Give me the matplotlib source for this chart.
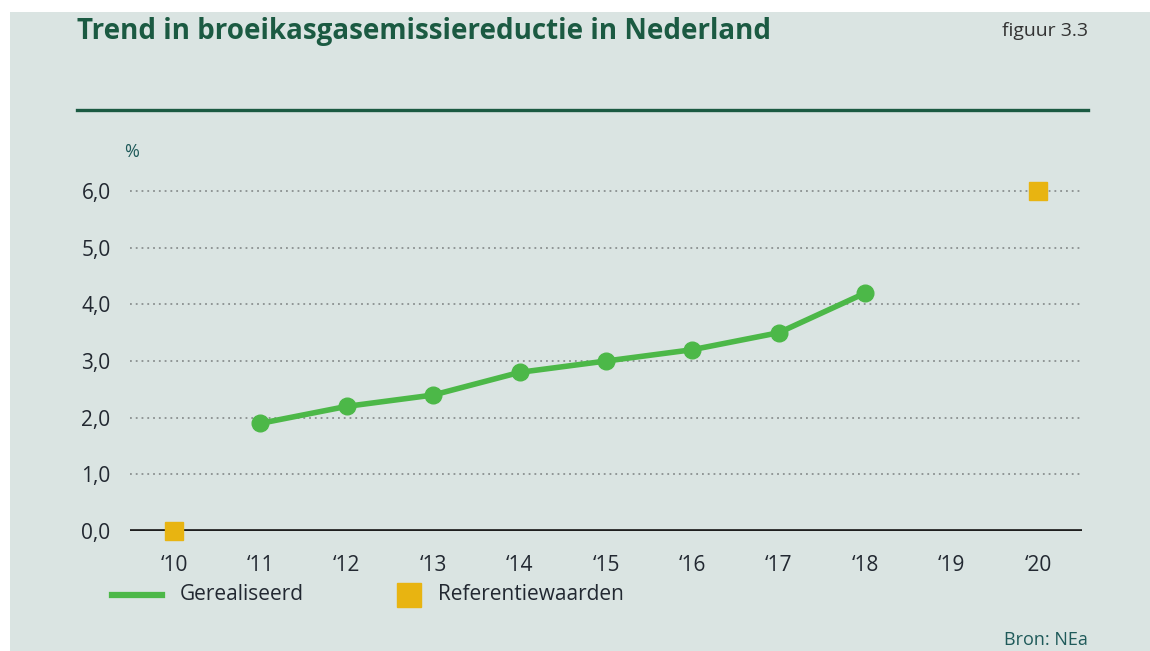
import matplotlib.pyplot as plt
from matplotlib.patches import Rectangle
from matplotlib.lines import Line2D

years = [2011, 2012, 2013, 2014, 2015, 2016, 2017, 2018]
gerealiseerd = [1.9, 2.2, 2.4, 2.8, 3.0, 3.2, 3.5, 4.2]
ref_years = [2010, 2020]
ref_values = [0.0, 6.0]
xtick_years = list(range(2010, 2021))
xtick_labels = ['\u2018' + str(y)[2:] for y in xtick_years]
yticks = [0, 1, 2, 3, 4, 5, 6]
ytick_labels = ['0,0', '1,0', '2,0', '3,0', '4,0', '5,0', '6,0']

bg = '#dae4e2'
green = '#4cb848'
yellow = '#e8b411'
dark_green = '#1b5a42'
text_col = '#222831'

plt.rcParams['font.family'] = ['Open Sans', 'DejaVu Sans']

fig = plt.figure(figsize=(11.5, 6.51), dpi=100)
fig.patch.set_facecolor('white')
fig.add_artist(Rectangle((10 / 1150, 0), 1 - 10 / 1150, 1 - 12 / 651,
                         transform=fig.transFigure, facecolor=bg,
                         edgecolor='none', zorder=-10))

ax = fig.add_axes([130 / 1150, 120 / 651, 952 / 1150, (531 - 161.6) / 651])
ax.set_facecolor('none')
ax.set_xlim(2009.49, 2020.51)
ax.set_ylim(0, 6.52)

for v in yticks[1:]:
    ax.axhline(v, color='#8a8f8f', lw=1.3, ls=(0, (1, 2.2)), zorder=1)
ax.axhline(0, color='#1e1e1e', lw=3.4, zorder=2)

ax.plot(years, gerealiseerd, color=green, lw=4, marker='o', ms=12,
        zorder=3, solid_capstyle='round')
ax.plot(ref_years, ref_values, ls='none', marker='s', ms=12.5,
        color=yellow, zorder=4, clip_on=False)

for s in ax.spines.values():
    s.set_visible(False)
ax.set_yticks(yticks)
ax.set_yticklabels(ytick_labels)
ax.set_xticks(xtick_years)
ax.set_xticklabels(xtick_labels)
ax.tick_params(length=0, labelsize=15, colors=text_col)
ax.tick_params(axis='y', pad=14)
ax.tick_params(axis='x', pad=17)

fig.text(132 / 1150, 1 - 152 / 651, '%', fontsize=13, color='#1f5a5a',
         ha='center', va='center')

fig.text(77 / 1150, 1 - 31 / 651,
         'Trend in broeikasgasemissiereductie in Nederland',
         fontsize=20, fontweight='bold', color=dark_green,
         ha='left', va='center')
fig.text(1088 / 1150, 1 - 31 / 651, 'figuur 3.3', fontsize=14,
         color='#333333', ha='right', va='center')
fig.add_artist(Line2D([77 / 1150, 1088 / 1150], [1 - 110 / 651, 1 - 110 / 651],
                      transform=fig.transFigure, color=dark_green, lw=2.4))

# legend
ly = 1 - 595 / 651
fig.add_artist(Line2D([112 / 1150, 162 / 1150], [ly, ly],
                      transform=fig.transFigure, color=green, lw=4.5))
fig.text(180 / 1150, ly, 'Gerealiseerd', fontsize=15, color=text_col,
         ha='left', va='center')
fig.add_artist(Line2D([409 / 1150], [ly], transform=fig.transFigure,
                      marker='s', ms=17, color=yellow, ls='none'))
fig.text(438 / 1150, ly, 'Referentiewaarden', fontsize=15, color=text_col,
         ha='left', va='center')

fig.text(1088 / 1150, 1 - 640 / 651, 'Bron: NEa', fontsize=13,
         color='#1f5a5a', ha='right', va='center')

fig.savefig('out.png', dpi=100, facecolor='white')
